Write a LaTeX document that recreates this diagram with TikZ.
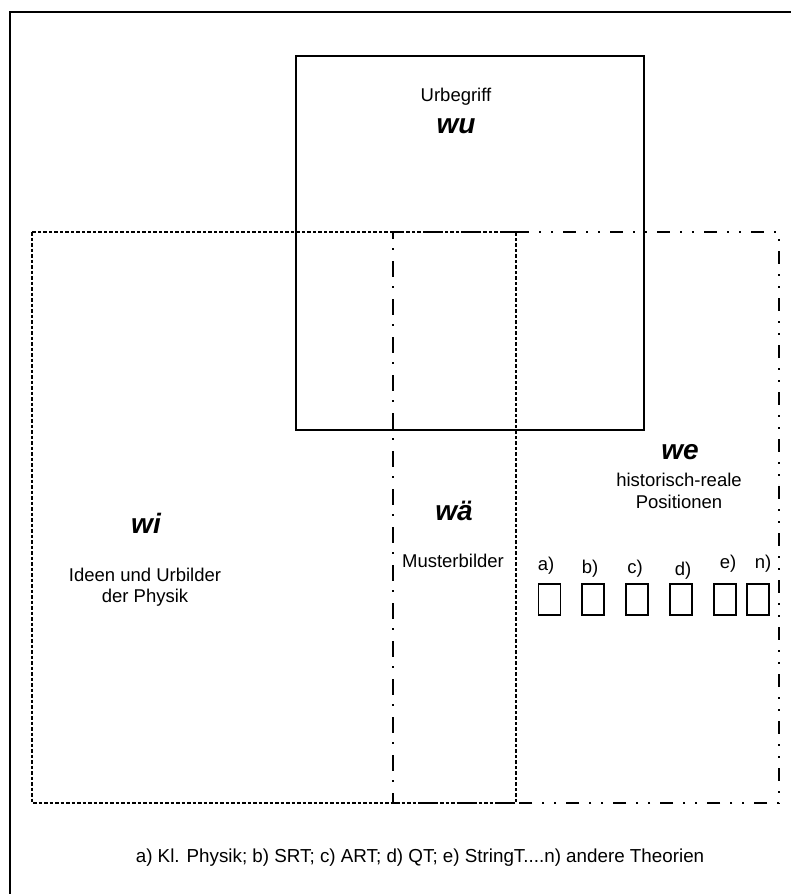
\documentclass[tikz,border=0pt]{standalone}
\usepackage{fontspec}
\setmainfont{Liberation Sans}
\begin{document}
\begin{tikzpicture}[x=1pt,y=-1pt,
  txt/.style={inner sep=0pt,anchor=base,align=center,font=\fontsize{18.5}{21.5}\selectfont},
  big/.style={inner sep=0pt,anchor=base,font=\fontsize{28}{30}\selectfont\bfseries\itshape},
  lbl/.style={inner sep=0pt,anchor=base,font=\fontsize{18.5}{21.5}\selectfont},
  smallbox/.style={draw,line width=1.2pt,minimum width=22pt,minimum height=31pt,inner sep=0pt},
  wiline/.style={line width=1.5pt,dash pattern=on 3.5pt off 2pt},
  waline/.style={line width=1.4pt,dash pattern=on 16pt off 9pt on 2pt off 11pt},
  weline/.style={line width=1.4pt,dash pattern=on 13pt off 10pt on 2pt off 10pt on 2pt off 10pt}]
\useasboundingbox (0,0) rectangle (790,894);
% outer frame (extends beyond the visible area)
\draw[line width=2pt] (10,900) -- (10,12) -- (796,12);
% wu box
\draw[line width=1.3pt] (296,56) rectangle (644,430);
% wi, wä, we boxes
\draw[waline] (516,232) -- (393,232) -- (393,803) -- (516,803);
\draw[weline] (516,232) -- (779,232) -- (779,803) -- (516,803);
\draw[wiline] (32,232) rectangle (516,803);
% texts
\node[txt] (urbegriff) at (456,101.5) {Urbegriff};
\node[big] (wu) at (456,133) {wu};
\node[big] (wi) at (146,533) {wi};
\node[txt] (ideen) at (145,602.5) {Ideen und Urbilder\\der Physik};
\node[big] (wae) at (454,520) {wä};
\node[txt] (muster) at (453,567) {Musterbilder};
\node[big] (we) at (680,459) {we};
\node[txt] (hist) at (679,508) {historisch-reale\\Positionen};
% labels and small boxes
\node[lbl] (la) at (546,570) {a)};
\node[lbl] (lb) at (590,573) {b)};
\node[lbl] (lc) at (635,573) {c)};
\node[lbl] (ld) at (683,575) {d)};
\node[lbl] (le) at (728,568) {e)};
\node[lbl] (ln) at (763,568) {n)};
\node[smallbox] (ba) at (549.5,599.5) {};
\node[smallbox] (bb) at (593,599.5) {};
\node[smallbox] (bc) at (637,599.5) {};
\node[smallbox] (bd) at (681,599.5) {};
\node[smallbox] (be) at (725,599.5) {};
\node[smallbox] (bn) at (758,599.5) {};
\node[lbl,font=\fontsize{18.8}{21.5}\selectfont] (legend) at (420,862) {a) Kl. Physik; b) SRT; c) ART; d) QT; e) StringT....n) andere Theorien};
\end{tikzpicture}
\end{document}
